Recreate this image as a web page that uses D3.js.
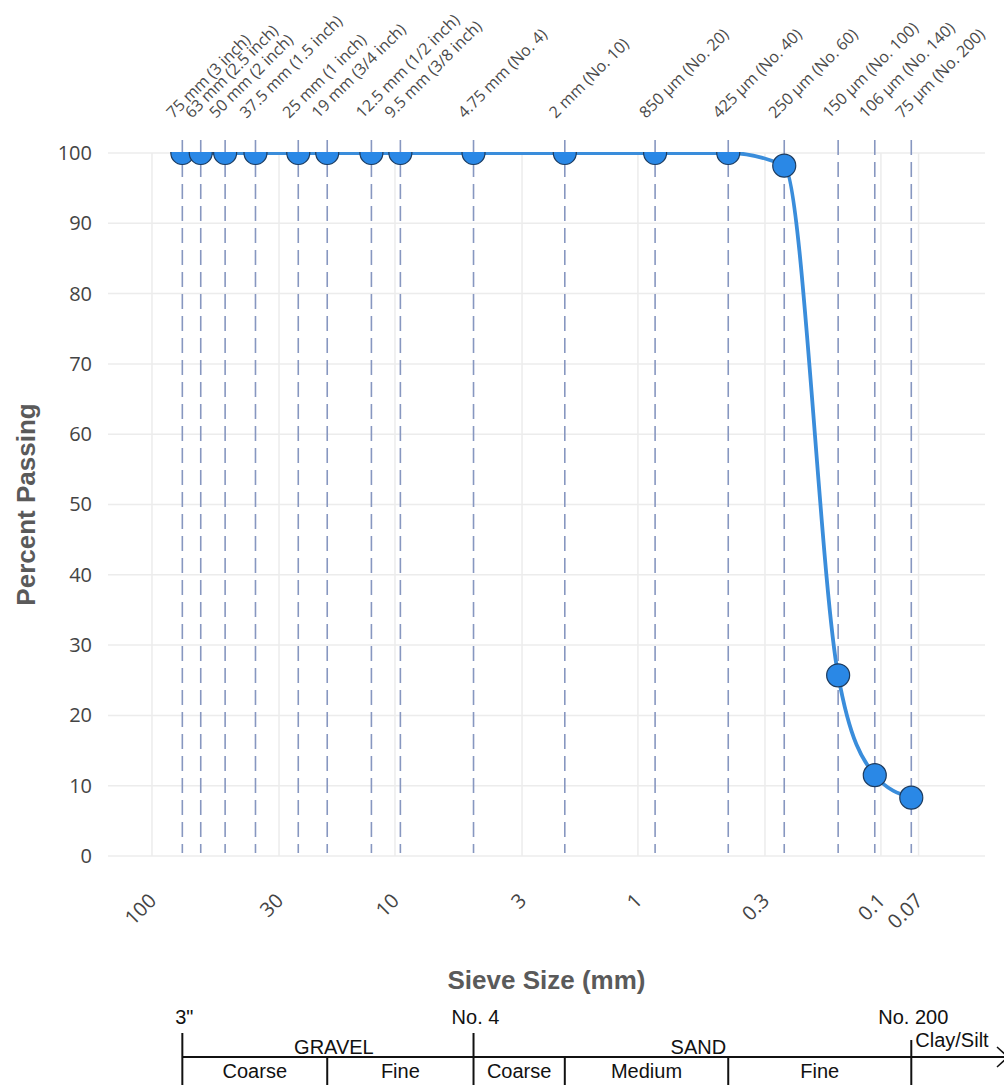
<!DOCTYPE html>
<html>
<head>
<meta charset="utf-8">
<script src="https://cdn.jsdelivr.net/npm/d3@7"></script>
<style>
  html, body { margin: 0; padding: 0; background: #fff; }
  svg { display: block; }
</style>
</head>
<body>
<div id="chart"></div>
<script>
// ---------- data ----------
const sieveSizes = [75, 63, 50, 37.5, 25, 19, 12.5, 9.5, 4.75, 2, 0.85, 0.425, 0.25, 0.15, 0.106, 0.075];
const sieveLabels = ["75 mm (3 inch)", "63 mm (2.5 inch)", "50 mm (2 inch)", "37.5 mm (1.5 inch)",
  "25 mm (1 inch)", "19 mm (3/4 inch)", "12.5 mm (1/2 inch)", "9.5 mm (3/8 inch)",
  "4.75 mm (No. 4)", "2 mm (No. 10)", "850 µm (No. 20)", "425 µm (No. 40)",
  "250 µm (No. 60)", "150 µm (No. 100)", "106 µm (No. 140)", "75 µm (No. 200)"];
const percentPassing = [100, 100, 100, 100, 100, 100, 100, 100, 100, 100, 100, 100, 98.2, 25.7, 11.5, 8.3];

const xTickValues = [100, 30, 10, 3, 1, 0.3, 0.1, 0.07];
const xTickLabels = ["100", "30", "10", "3", "1", "0.3", "0.1", "0.07"];
const yTickValues = [0, 10, 20, 30, 40, 50, 60, 70, 80, 90, 100];
const xDomain = [151.7, 0.0373];
const yDomain = [0, 100];

// classification diagram (sizes in mm)
const boundaryMarks = [{size: 75, label: '3"'}, {size: 4.75, label: "No. 4"}, {size: 0.075, label: "No. 200"}];
const mainClasses = [{label: "GRAVEL", from: 75, to: 4.75}, {label: "SAND", from: 4.75, to: 0.075}];
const subClasses = [
  {label: "Coarse", from: 75, to: 19}, {label: "Fine", from: 19, to: 4.75},
  {label: "Coarse", from: 4.75, to: 2}, {label: "Medium", from: 2, to: 0.425},
  {label: "Fine", from: 0.425, to: 0.075}];
const subDividers = [19, 2, 0.425];

// ---------- layout ----------
const W = 1004, H = 1085;
const plot = {left: 108, right: 985, top: 153, bottom: 856};

const svg = d3.select("#chart").append("svg").attr("width", W).attr("height", H);

const x = d3.scaleLog().domain(xDomain).range([plot.left, plot.right]);
const y = d3.scaleLinear().domain(yDomain).range([plot.bottom, plot.top]);

const chartFont = "'Open Sans', 'DejaVu Sans', sans-serif";
const tableFont = "'Liberation Sans', Arial, sans-serif";

// gridlines
svg.append("g").selectAll("line").data(yTickValues).join("line")
  .attr("x1", plot.left).attr("x2", plot.right)
  .attr("y1", d => y(d)).attr("y2", d => y(d))
  .attr("stroke", "#ececec").attr("stroke-width", 1.5);
svg.append("g").selectAll("line").data(xTickValues).join("line")
  .attr("x1", d => x(d)).attr("x2", d => x(d))
  .attr("y1", plot.top).attr("y2", plot.bottom)
  .attr("stroke", "#ececec").attr("stroke-width", 1.5);

// y axis labels
const yAxis = d3.axisLeft(y).tickValues(yTickValues).tickSize(0).tickPadding(16);
const gy = svg.append("g").attr("transform", `translate(${plot.left},0)`).call(yAxis);
gy.select(".domain").remove();
gy.selectAll("text").attr("font-family", chartFont).attr("font-size", 20).attr("fill", "#444");

// x axis labels (rotated)
const xAxis = d3.axisBottom(x).tickValues(xTickValues).tickSize(0)
  .tickFormat((d, i) => xTickLabels[i]);
const gx = svg.append("g").attr("transform", `translate(0,${plot.bottom})`).call(xAxis);
gx.select(".domain").remove();
gx.selectAll(".tick text")
  .attr("font-family", chartFont).attr("font-size", 20).attr("fill", "#444")
  .attr("text-anchor", "end").attr("dy", 0).attr("y", 0)
  .attr("transform", "translate(5,46) rotate(-45)");

// dashed sieve lines
svg.append("g").selectAll("line").data(sieveSizes).join("line")
  .attr("x1", d => x(d)).attr("x2", d => x(d))
  .attr("y1", plot.top - 13).attr("y2", plot.bottom - 3)
  .attr("stroke", "#8797c0").attr("stroke-width", 1.6)
  .attr("stroke-dasharray", "15,7");

// sieve labels on top
svg.append("g").selectAll("text").data(sieveSizes).join("text")
  .attr("transform", d => `translate(${x(d) - 9},119) rotate(-45)`)
  .attr("font-family", chartFont).attr("font-size", 16).attr("fill", "#4a4a4a")
  .text((d, i) => sieveLabels[i]);

// clip for data
svg.append("clipPath").attr("id", "plotclip").append("rect")
  .attr("x", plot.left - 20).attr("y", plot.top - 1)
  .attr("width", plot.right - plot.left + 40).attr("height", plot.bottom - plot.top + 30);

const pts = sieveSizes.map((s, i) => ({s, p: percentPassing[i]}));
const line = d3.line().x(d => x(d.s)).y(d => y(d.p)).curve(d3.curveMonotoneX);
const dg = svg.append("g").attr("clip-path", "url(#plotclip)");
dg.append("path").datum(pts).attr("d", line)
  .attr("fill", "none").attr("stroke", "#3a8ddb").attr("stroke-width", 3.8);
dg.selectAll("circle").data(pts).join("circle")
  .attr("cx", d => x(d.s)).attr("cy", d => y(d.p)).attr("r", 11.5)
  .attr("fill", "#2a88e6").attr("stroke", "#1d3b5e").attr("stroke-width", 1.2);

// axis titles
svg.append("text")
  .attr("transform", `translate(35,${(plot.top + plot.bottom) / 2}) rotate(-90)`)
  .attr("text-anchor", "middle").attr("font-family", tableFont).attr("font-weight", "bold")
  .attr("font-size", 26).attr("fill", "#5a5a5a").text("Percent Passing");
svg.append("text")
  .attr("x", (plot.left + plot.right) / 2).attr("y", 989)
  .attr("text-anchor", "middle").attr("font-family", tableFont).attr("font-weight", "bold")
  .attr("font-size", 26).attr("fill", "#5a5a5a").text("Sieve Size (mm)");

// ---------- classification diagram ----------
const tg = svg.append("g");
const hLineY = 1057;
tg.append("line").attr("x1", x(75)).attr("x2", W + 10).attr("y1", hLineY).attr("y2", hLineY)
  .attr("stroke", "#111").attr("stroke-width", 2);
// arrow head (cut off at right edge)
tg.append("path")
  .attr("d", `M${W - 7},${hLineY - 10} L${W + 4},${hLineY} L${W - 7},${hLineY + 10}`)
  .attr("fill", "none").attr("stroke", "#111").attr("stroke-width", 1.5);

tg.selectAll(".bnd").data(boundaryMarks).join("line").attr("class", "bnd")
  .attr("x1", d => x(d.size)).attr("x2", d => x(d.size))
  .attr("y1", d => d.size < 0.1 ? 1040 : 1033).attr("y2", H)
  .attr("stroke", "#111").attr("stroke-width", 2);
tg.selectAll(".bndt").data(boundaryMarks).join("text").attr("class", "bndt")
  .attr("x", d => x(d.size) + 2).attr("y", 1024).attr("text-anchor", "middle")
  .attr("font-family", tableFont).attr("font-size", 20).attr("fill", "#111")
  .text(d => d.label);

tg.selectAll(".sub").data(subDividers).join("line").attr("class", "sub")
  .attr("x1", d => x(d)).attr("x2", d => x(d)).attr("y1", hLineY).attr("y2", H)
  .attr("stroke", "#111").attr("stroke-width", 2);

tg.selectAll(".main").data(mainClasses).join("text").attr("class", "main")
  .attr("x", d => (x(d.from) + x(d.to)) / 2 + 6).attr("y", 1054).attr("text-anchor", "middle")
  .attr("font-family", tableFont).attr("font-size", 20).attr("fill", "#111")
  .text(d => d.label);
tg.append("text").attr("x", x(0.075) + 4).attr("y", 1047)
  .attr("font-family", tableFont).attr("font-size", 20).attr("fill", "#111").text("Clay/Silt");

tg.selectAll(".subt").data(subClasses).join("text").attr("class", "subt")
  .attr("x", d => (x(d.from) + x(d.to)) / 2).attr("y", 1078).attr("text-anchor", "middle")
  .attr("font-family", tableFont).attr("font-size", 20).attr("fill", "#111")
  .text(d => d.label);
</script>
</body>
</html>
